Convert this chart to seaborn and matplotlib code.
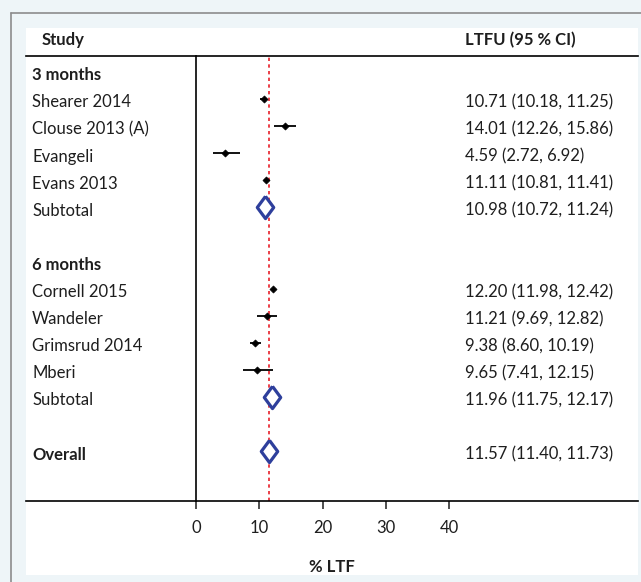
"""Forest plot: loss to follow-up (LTFU) at 3 and 6 months."""

import matplotlib.pyplot as plt
from matplotlib.lines import Line2D
from matplotlib.patches import Rectangle
import pandas as pd
import seaborn as sns

# study-level estimates (% LTF, 95 % CI)
studies_3m = ["Shearer 2014", "Clouse 2013 (A)", "Evangeli", "Evans 2013"]
est_3m = [10.71, 14.01, 4.59, 11.11]
lo_3m = [10.18, 12.26, 2.72, 10.81]
hi_3m = [11.25, 15.86, 6.92, 11.41]

studies_6m = ["Cornell 2015", "Wandeler", "Grimsrud 2014", "Mberi"]
est_6m = [12.20, 11.21, 9.38, 9.65]
lo_6m = [11.98, 9.69, 8.60, 7.41]
hi_6m = [12.42, 12.82, 10.19, 12.15]

# pooled estimates
subtotal_3m = (10.98, 10.72, 11.24)
subtotal_6m = (11.96, 11.75, 12.17)
overall = (11.57, 11.40, 11.73)

x_ticks = [0, 10, 20, 30, 40]

BG = "#eef5f8"
TXT = "#1e1e1e"
BLUE = "#2e3f9c"
FS = 12


def setup_style():
    sns.set_theme(style="white")
    plt.rcParams.update(
        {
            "font.family": ["Lato", "DejaVu Sans"],
            "font.size": FS,
            "text.color": TXT,
            "axes.labelcolor": TXT,
            "xtick.color": TXT,
        }
    )


def build_rows():
    """Row table: one entry per line of the forest plot."""
    rows = []
    groups = [
        ("3 months", studies_3m, est_3m, lo_3m, hi_3m, subtotal_3m),
        ("6 months", studies_6m, est_6m, lo_6m, hi_6m, subtotal_6m),
    ]
    for title, names, est, lo, hi, sub in groups:
        rows.append({"label": title, "kind": "header"})
        for n, e, l, h in zip(names, est, lo, hi):
            rows.append({"label": n, "kind": "study", "est": e, "lo": l, "hi": h})
        rows.append({"label": "Subtotal", "kind": "pooled",
                     "est": sub[0], "lo": sub[1], "hi": sub[2]})
        rows.append({"label": "", "kind": "blank"})
    rows.append({"label": "Overall", "kind": "overall",
                 "est": overall[0], "lo": overall[1], "hi": overall[2]})
    df = pd.DataFrame(rows)
    df["row"] = range(len(df))
    return df


setup_style()
df = build_rows()

fig = plt.figure(figsize=(6.41, 5.82), dpi=100)
fig.patch.set_facecolor(BG)

# white panel + frame lines (behind the axes)
fig.patches.append(Rectangle((0.0406, 0.012), 0.9548, 0.9399,
                             transform=fig.transFigure, facecolor="white",
                             edgecolor="none", zorder=-5))
fig.lines.append(Line2D([0.0172, 0.0172], [0, 0.9777], transform=fig.transFigure,
                        color="#8c8c8c", lw=1.2, zorder=-4))
fig.lines.append(Line2D([0.0172, 1], [0.9777, 0.9777], transform=fig.transFigure,
                        color="#8c8c8c", lw=1.2, zorder=-4))

ax = fig.add_axes([0.0406, 0.1392, 0.9547, 0.7646])
ax.set_zorder(2)
ax.set_facecolor("none")

studies = df[df["kind"] == "study"]
pooled = df[df["kind"].isin(["pooled", "overall"])]

# confidence intervals
ax.hlines(studies["row"], studies["lo"], studies["hi"], color="black", lw=1.3, zorder=3)
sns.scatterplot(data=studies, x="est", y="row", marker="D", s=13, color="black",
                edgecolor="black", linewidth=0.5, ax=ax, zorder=4, legend=False)

diamond = [(0, 1), (0.74, 0), (0, -1), (-0.74, 0), (0, 1)]
ax.plot(pooled["est"], pooled["row"], linestyle="none", marker=diamond,
        markersize=16, markerfacecolor="white", markeredgecolor=BLUE,
        markeredgewidth=2.3, zorder=5)

ax.axvline(overall[0], color="#e8202a", ls=(0, (2, 2)), lw=1.2, zorder=2)

# text columns, sitting a touch below the marks
lab_tr = ax.get_yaxis_transform()
dy = 0.12
for _, r in df.iterrows():
    if not r["label"]:
        continue
    bold = r["kind"] in ("header", "overall")
    ax.text(0.0098, r["row"] + dy, r["label"], transform=lab_tr, va="center",
            ha="left", fontweight="bold" if bold else "normal", fontsize=FS)
    if r["kind"] in ("study", "pooled", "overall"):
        ax.text(0.717, r["row"] + dy,
                f"{r['est']:.2f} ({r['lo']:.2f}, {r['hi']:.2f})",
                transform=lab_tr, va="center", ha="left", fontsize=FS)

ax.text(0.026, 1.036, "Study", transform=ax.transAxes, va="center", ha="left",
        fontweight="bold", fontsize=FS)
ax.text(0.717, 1.036, "LTFU (95 % CI)", transform=ax.transAxes, va="center",
        ha="left", fontweight="bold", fontsize=FS)

ax.set_xlim(-26.9, 69.9)
ax.set_ylim(15.83, -0.59)
ax.set_yticks([])
ax.set_xticks(x_ticks)
ax.tick_params(axis="x", direction="out", length=6, width=1.1, pad=8,
               labelsize=FS, bottom=True)
ax.set_xlabel("% LTF", fontweight="bold", fontsize=FS, labelpad=16)
ax.set_ylabel("")

for side in ("left", "top", "bottom"):
    ax.spines[side].set_visible(True)
    ax.spines[side].set_color("black")
    ax.spines[side].set_linewidth(1.2)
ax.spines["right"].set_visible(False)
ax.spines["left"].set_position(("data", 0))

fig.savefig("out.png", dpi=100, facecolor=BG)
print("Saved out.png")
